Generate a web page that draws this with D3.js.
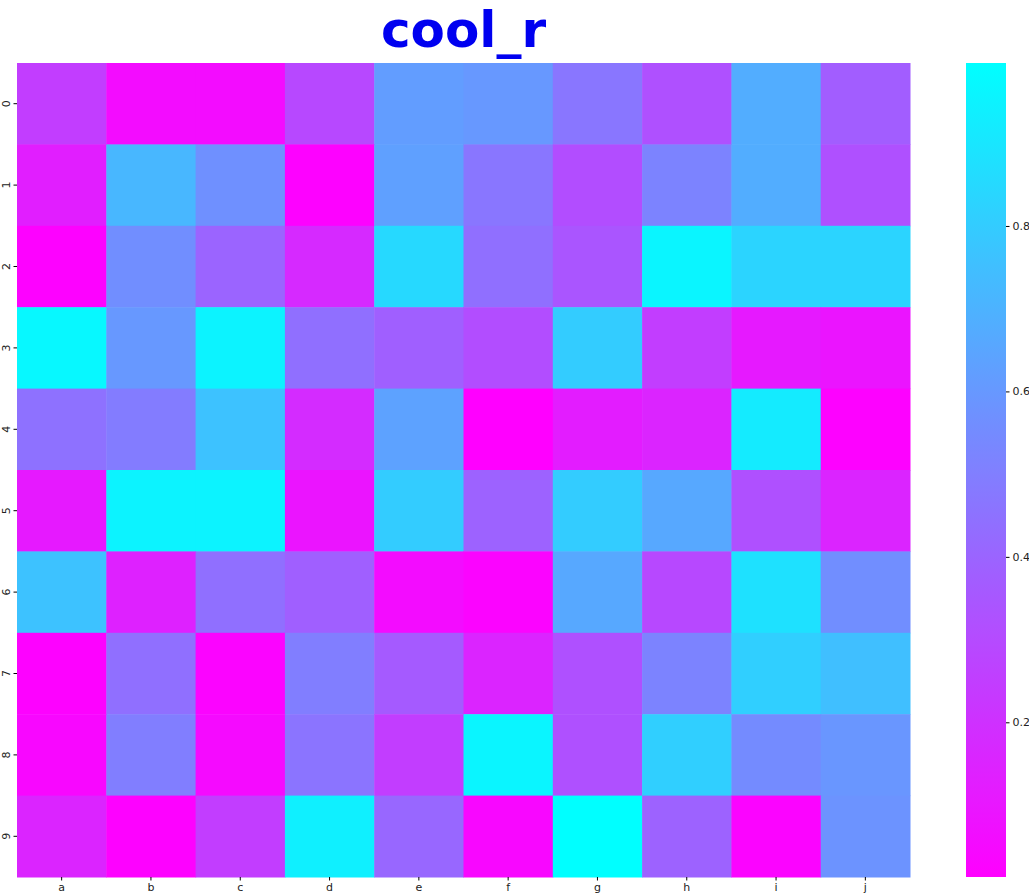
<!DOCTYPE html>
<html>
<head>
<meta charset="utf-8">
<script src="https://cdn.jsdelivr.net/npm/d3@7"></script>
<style>
  body { margin: 0; background: #fff; }
  svg { display: block; }
</style>
</head>
<body>
<div id="chart"></div>
<script>
// column / row labels
const cols = ["a", "b", "c", "d", "e", "f", "g", "h", "i", "j"];
const rows = ["0", "1", "2", "3", "4", "5", "6", "7", "8", "9"];

// cell values, one array per row
const row0 = [0.25, 0.06, 0.06, 0.29, 0.62, 0.60, 0.47, 0.32, 0.68, 0.37];
const row1 = [0.13, 0.72, 0.57, 0.02, 0.63, 0.47, 0.31, 0.52, 0.68, 0.32];
const row2 = [0.02, 0.56, 0.40, 0.17, 0.85, 0.44, 0.34, 0.96, 0.83, 0.83];
const row3 = [0.97, 0.60, 0.95, 0.44, 0.38, 0.31, 0.80, 0.25, 0.11, 0.09];
const row4 = [0.45, 0.49, 0.76, 0.18, 0.64, 0.013, 0.12, 0.15, 0.92, 0.02];
const row5 = [0.11, 0.95, 0.95, 0.09, 0.80, 0.39, 0.80, 0.66, 0.32, 0.15];
const row6 = [0.76, 0.14, 0.44, 0.38, 0.06, 0.03, 0.66, 0.29, 0.88, 0.56];
const row7 = [0.02, 0.44, 0.03, 0.50, 0.36, 0.15, 0.32, 0.52, 0.81, 0.75];
const row8 = [0.04, 0.50, 0.05, 0.46, 0.25, 0.96, 0.32, 0.81, 0.55, 0.59];
const row9 = [0.15, 0.02, 0.25, 0.94, 0.41, 0.04, 0.997, 0.39, 0.03, 0.58];
const values = [row0, row1, row2, row3, row4, row5, row6, row7, row8, row9];

const cbTicks = [0.2, 0.4, 0.6, 0.8];
const titleText = "cool_r";

const width = 1029, height = 895;
const margin = {top: 63, left: 17, right: 119, bottom: 18};

const svg = d3.select("#chart").append("svg")
    .attr("width", width)
    .attr("height", height);

const flat = values.flat();
const vmin = d3.min(flat), vmax = d3.max(flat);

// cool_r: v -> (1-v, v, 1)
const cool_r = t => d3.rgb(255 * (1 - t), 255 * t, 255);
const color = d3.scaleSequential(cool_r).domain([vmin, vmax]);

const x = d3.scaleBand()
    .domain(cols)
    .range([margin.left, width - margin.right]);

const y = d3.scaleBand()
    .domain(rows)
    .range([margin.top, height - margin.bottom]);

const cells = [];
values.forEach((r, i) => r.forEach((v, j) => cells.push({row: rows[i], col: cols[j], value: v})));

svg.append("g")
    .selectAll("rect")
    .data(cells)
    .join("rect")
    .attr("x", d => x(d.col))
    .attr("y", d => y(d.row))
    .attr("width", x.bandwidth() + 0.5)
    .attr("height", y.bandwidth() + 0.5)
    .attr("fill", d => color(d.value));

const xAxis = svg.append("g")
    .attr("transform", `translate(0,${height - margin.bottom})`)
    .call(d3.axisBottom(x).tickSize(3.5).tickPadding(3))
    .call(g => g.select(".domain").remove());
xAxis.selectAll("text").attr("font-size", 11).attr("fill", "#222")
    .attr("font-family", "DejaVu Sans");

const yAxis = svg.append("g")
    .attr("transform", `translate(${margin.left},0)`)
    .call(d3.axisLeft(y).tickSize(3.5).tickPadding(3))
    .call(g => g.select(".domain").remove());
// rotated row labels, centred about 6px from the left edge
yAxis.selectAll("text")
    .attr("font-size", 11).attr("fill", "#222")
    .attr("font-family", "DejaVu Sans")
    .attr("x", 0).attr("dy", "0.35em")
    .attr("text-anchor", "middle")
    .attr("transform", "translate(-11,0) rotate(-90)");

// colorbar
const cbX = 966, cbW = 40;
const cbScale = d3.scaleLinear()
    .domain([vmin, vmax])
    .range([height - margin.bottom, margin.top]);

const defs = svg.append("defs");
const grad = defs.append("linearGradient")
    .attr("id", "cbgrad")
    .attr("x1", 0).attr("y1", 1).attr("x2", 0).attr("y2", 0);
d3.range(0, 1.0001, 0.05).forEach(t => {
    grad.append("stop")
        .attr("offset", t)
        .attr("stop-color", color(vmin + t * (vmax - vmin)));
});

svg.append("rect")
    .attr("x", cbX)
    .attr("y", margin.top)
    .attr("width", cbW)
    .attr("height", height - margin.bottom - margin.top)
    .attr("fill", "url(#cbgrad)");

const cbAxis = svg.append("g")
    .attr("transform", `translate(${cbX + cbW},0)`)
    .call(d3.axisRight(cbScale).tickValues(cbTicks).tickFormat(d3.format(".1f")).tickSize(3.5).tickPadding(3))
    .call(g => g.select(".domain").remove());
cbAxis.selectAll("text").attr("font-size", 11).attr("fill", "#222")
    .attr("font-family", "DejaVu Sans");

// title
svg.append("text")
    .attr("x", (margin.left + width - margin.right) / 2)
    .attr("y", 47)
    .attr("text-anchor", "middle")
    .attr("font-family", "'Comic Sans MS', 'DejaVu Sans', sans-serif")
    .attr("font-weight", "bold")
    .attr("font-size", 50)
    .attr("fill", "#0000f0")
    .text(titleText);
</script>
</body>
</html>
